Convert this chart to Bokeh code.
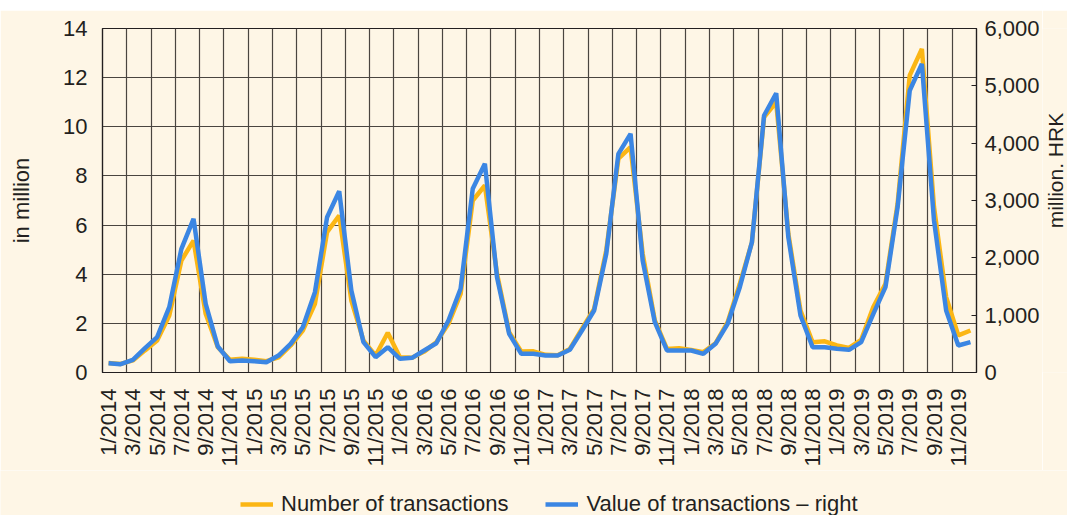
import math
from bokeh.plotting import figure
from bokeh.layouts import column, row
from bokeh.models import (Range1d, LinearAxis, FixedTicker, NumeralTickFormatter,
                          Legend, LegendItem, Label)
from bokeh.embed import file_html
from bokeh.resources import INLINE

# ---- data ----
years = [2014, 2015, 2016, 2017, 2018, 2019]
months = [f"{m}/{y}" for y in years for m in range(1, 13)]

number_of_transactions = [  # in million (left axis)
    0.39, 0.35, 0.49, 0.90, 1.30, 2.32, 4.56, 5.37, 2.39, 1.03, 0.52, 0.56,
    0.52, 0.46, 0.62, 1.10, 1.71, 2.80, 5.71, 6.39, 2.93, 1.30, 0.69, 1.62,
    0.62, 0.60, 0.85, 1.23, 1.98, 3.20, 7.00, 7.61, 4.02, 1.64, 0.85, 0.86,
    0.72, 0.70, 0.96, 1.78, 2.59, 4.97, 8.70, 9.17, 4.83, 2.12, 0.96, 0.99,
    0.92, 0.83, 1.19, 2.05, 3.61, 5.30, 10.39, 11.00, 5.65, 2.52, 1.23, 1.27,
    1.10, 1.00, 1.33, 2.66, 3.61, 6.87, 12.09, 13.17, 6.73, 3.07, 1.51, 1.71,
]

value_of_transactions = [  # million HRK (right axis)
    162, 145, 221, 424, 616, 1139, 2157, 2680, 1198, 453, 197, 209,
    197, 180, 296, 500, 790, 1400, 2708, 3162, 1430, 529, 267, 442,
    239, 256, 384, 511, 907, 1460, 3204, 3640, 1662, 675, 326, 326,
    296, 296, 396, 732, 1081, 2070, 3814, 4163, 1953, 877, 384, 384,
    384, 326, 500, 849, 1488, 2273, 4482, 4871, 2360, 994, 442, 442,
    413, 396, 529, 1023, 1488, 2883, 4918, 5384, 2651, 1081, 471, 529,
]

left_ticks = [0, 2, 4, 6, 8, 10, 12, 14]
right_ticks = [0, 1000, 2000, 3000, 4000, 5000, 6000]

series_names = ["Number of transactions", "Value of transactions \u2013 right"]
left_label = "in million"
right_label = "million. HRK"

# ---- style ----
FONT = "Liberation Sans"
FS = "22px"
BG = "#fef6e6"
TXT = "#231f20"
GRID = "#4a4540"
ORANGE = "#fbb614"
BLUE = "#3b86e3"

W, H = 1067, 515
TOP_H = 10           # white strip above the chart panel
LAB_W = 25           # strip for the right axis title
LEG_H = 45           # strip for the legend
MW, MH = W - LAB_W, H - LEG_H - TOP_H
ML, MT, FW, FH = 102, 18, 876, 344

n = len(months)
x = [i + 0.5 for i in range(n)]


def blank(width, height, color):
    f = figure(width=width, height=height, output_backend="svg", toolbar_location=None,
               x_axis_type=None, y_axis_type=None, min_border=0,
               x_range=Range1d(0, 1), y_range=Range1d(0, 1),
               background_fill_color=color, border_fill_color=color,
               outline_line_color=None)
    f.xgrid.visible = False
    f.ygrid.visible = False
    return f


p = figure(width=MW, height=MH, output_backend="svg", toolbar_location=None,
           x_range=Range1d(0, n), y_range=Range1d(0, 14),
           min_border_left=ML, min_border_top=MT,
           min_border_right=MW - ML - FW, min_border_bottom=MH - MT - FH,
           background_fill_color=BG, border_fill_color=BG,
           outline_line_color=TXT, outline_line_width=1.2)
p.extra_y_ranges = {"right": Range1d(0, 6000)}

# grids
p.xgrid.ticker = FixedTicker(ticks=list(range(2, n, 2)))
p.ygrid.ticker = FixedTicker(ticks=left_ticks[1:-1])
for g in (p.xgrid, p.ygrid):
    g.grid_line_color = GRID
    g.grid_line_width = 1.2

r1 = p.line(x, number_of_transactions, color=ORANGE, line_width=4.5)
r2 = p.line(x, value_of_transactions, y_range_name="right", color=BLUE, line_width=4.5)

# x axis
xa = p.xaxis[0]
label_pos = [i + 0.5 for i in range(0, n, 2)]
xa.ticker = FixedTicker(ticks=label_pos)
xa.major_label_overrides = {i + 0.5: months[i] for i in range(0, n, 2)}
xa.major_label_orientation = math.pi / 2
xa.major_tick_line_color = None
xa.minor_tick_line_color = None
xa.major_label_standoff = 10
xa.axis_line_color = TXT
xa.axis_line_width = 1.2

# left axis
ya = p.yaxis[0]
ya.ticker = FixedTicker(ticks=left_ticks)
ya.major_tick_line_color = None
ya.minor_tick_line_color = None
ya.major_label_standoff = 9
ya.axis_line_color = TXT
ya.axis_line_width = 1.2
ya.axis_label = left_label
ya.axis_label_standoff = 26
ya.axis_label_text_font_style = "normal"
ya.axis_label_text_font = FONT
ya.axis_label_text_font_size = FS
ya.axis_label_text_color = TXT

# right axis
ra = LinearAxis(y_range_name="right", ticker=FixedTicker(ticks=right_ticks),
                formatter=NumeralTickFormatter(format="0,0"))
ra.major_tick_in = 5
ra.major_tick_out = 0
ra.major_tick_line_color = TXT
ra.minor_tick_line_color = None
ra.major_label_standoff = 8
ra.axis_line_color = TXT
ra.axis_line_width = 1.2
p.add_layout(ra, "right")

for ax in (xa, ya, ra):
    ax.major_label_text_font = FONT
    ax.major_label_text_font_size = FS
    ax.major_label_text_color = TXT

# ---- top white strip ----
top = blank(W, TOP_H, "white")

# ---- right axis title strip ----
lab = blank(LAB_W, MH, BG)
lab.x_range = Range1d(0, LAB_W)
lab.y_range = Range1d(0, MH)
lab.add_layout(Label(x=13, y=MH - (MT + FH / 2), text=right_label, angle=math.pi / 2,
                     text_align="center", text_baseline="middle",
                     text_font=FONT, text_font_size="21px", text_color=TXT))

# ---- legend strip ----
leg = blank(W, LEG_H, BG)
d1 = leg.line([-5, -4], [-5, -4], color=ORANGE, line_width=4.5)
d2 = leg.line([-5, -4], [-5, -4], color=BLUE, line_width=4.5)
legend = Legend(items=[LegendItem(label=series_names[0], renderers=[d1]),
                       LegendItem(label=series_names[1], renderers=[d2])],
                orientation="horizontal", location=(240, -2),
                background_fill_alpha=0, border_line_color=None,
                label_text_font=FONT, label_text_font_size=FS, label_text_color=TXT,
                glyph_width=33, glyph_height=20, label_height=20, label_standoff=8,
                spacing=37, padding=0, margin=0)
leg.add_layout(legend)

layout = column(top, row(p, lab), leg)
open("out.html", "w").write(file_html(layout, INLINE))
